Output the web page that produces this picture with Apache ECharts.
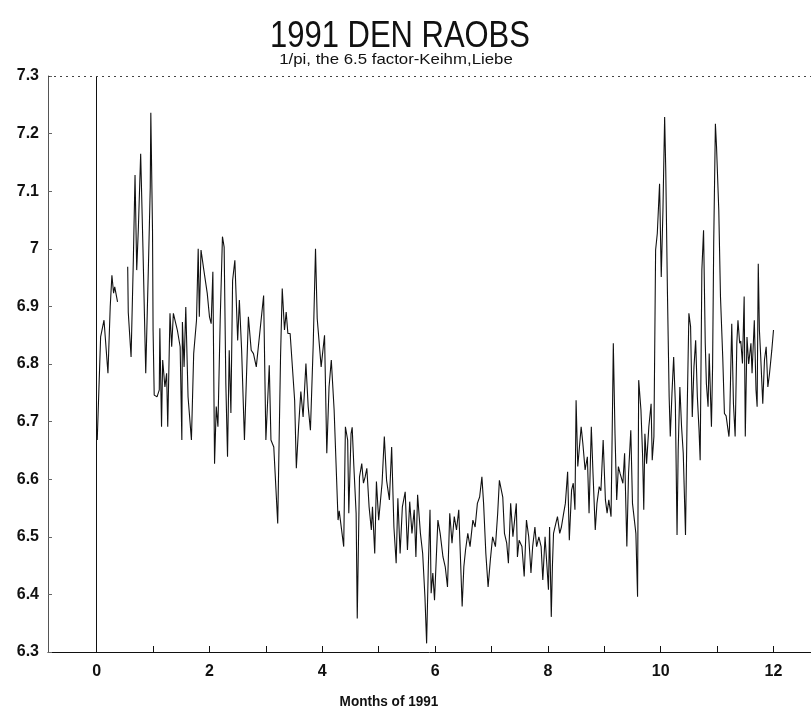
<!DOCTYPE html>
<html>
<head>
<meta charset="utf-8">
<script src="https://cdn.jsdelivr.net/npm/echarts@6/dist/echarts.min.js"></script>
<style>
html,body{margin:0;padding:0;background:#fff;}
#chart{width:811px;height:719px;}
</style>
</head>
<body>
<div id="chart"></div>
<script>
// ---- data ----
var titleText = '1991 DEN RAOBS';
var subtitleText = '1/pi, the 6.5 factor-Keihm,Liebe';
var xAxisName = 'Months of 1991';
var xLabelValues = [0, 2, 4, 6, 8, 10, 12];
var xTickValues = [0, 1, 2, 3, 4, 5, 6, 7, 8, 9, 10, 11, 12];

var months = [
 0.01,0.07,0.13,0.20,0.24,0.27,0.30,0.32,0.37,0.45,
 0.55,0.56,0.61,0.65,0.68,0.71,0.74,0.78,0.82,0.87,0.92,0.95,0.96,0.99,
 1.00,1.02,1.07,1.11,1.12,1.15,1.17,1.21,1.24,1.26,1.30,1.33,1.36,1.43,1.48,1.51,1.52,1.55,1.58,1.62,1.68,1.72,1.77,1.80,1.82,1.85,1.90,1.96,
 2.00,2.03,2.06,2.09,2.12,2.15,2.19,2.23,2.26,2.29,2.32,2.35,2.38,2.41,2.45,2.50,2.53,2.57,2.62,2.69,2.74,2.78,2.83,2.96,
 3.00,3.06,3.09,3.14,3.21,3.26,3.29,3.33,3.36,3.39,3.43,3.51,3.54,3.58,3.62,3.66,3.71,3.75,3.79,3.84,3.88,3.91,3.98,
 4.04,4.08,4.12,4.16,4.21,4.28,4.30,4.38,4.41,4.45,4.47,4.51,4.53,4.56,4.60,4.62,4.66,4.70,4.73,4.76,4.79,4.83,4.87,4.89,4.93,4.96,
 5.00,5.06,5.10,5.14,5.19,5.23,5.27,5.31,5.34,5.38,5.42,5.47,5.51,5.55,5.59,5.63,5.66,5.69,5.74,5.78,5.82,5.85,5.88,5.91,5.93,5.96,5.99,
 6.02,6.05,6.09,6.14,6.18,6.22,6.26,6.30,6.34,6.38,6.42,6.48,6.51,6.54,6.58,6.62,6.67,6.71,6.75,6.79,6.83,6.86,6.90,6.94,6.98,
 7.02,7.07,7.11,7.14,7.20,7.23,7.27,7.30,7.34,7.38,7.41,7.44,7.46,7.49,7.54,7.58,7.62,7.66,7.70,7.73,7.77,7.80,7.84,7.88,7.91,7.95,7.98,
 8.01,8.03,8.06,8.08,8.10,8.14,8.17,8.21,8.24,8.28,8.31,8.35,8.38,8.42,8.45,8.48,8.50,8.53,8.56,8.59,8.62,8.66,8.70,8.73,8.77,8.80,8.84,8.87,8.91,8.94,8.98,
 9.02,9.05,9.08,9.12,9.15,9.16,9.19,9.22,9.25,9.28,9.33,9.36,9.40,9.43,9.47,9.50,9.53,9.56,9.59,9.61,9.65,9.68,9.70,9.72,9.75,9.79,9.83,9.85,9.88,9.91,9.94,9.98,
 10.01,10.04,10.07,10.09,10.12,10.15,10.17,10.20,10.23,10.26,10.29,10.31,10.34,10.37,10.40,10.44,10.47,10.50,10.53,10.56,10.59,10.62,10.65,10.68,10.70,10.73,10.76,10.79,10.81,10.84,10.86,10.90,10.92,10.94,10.97,10.99,
 11.03,11.06,11.10,11.13,11.16,11.21,11.22,11.26,11.29,11.32,11.35,11.37,11.40,11.42,11.45,11.48,11.50,11.53,11.56,11.60,11.62,11.66,11.69,11.71,11.73,11.75,11.77,11.81,11.84,11.87,11.90,11.93,11.97,12.00
];

var values = [
 6.668,6.847,6.876,6.784,6.899,6.954,6.923,6.934,6.908,null,
 6.969,6.890,6.812,6.980,7.128,6.963,7.038,7.165,7.003,6.784,6.980,7.107,7.236,7.032,
 6.859,6.746,6.743,6.755,6.862,6.691,6.807,6.760,6.784,6.691,6.888,6.830,6.888,6.859,6.830,6.668,6.873,6.795,6.899,6.743,6.668,6.818,6.876,7.000,6.882,6.998,6.963,6.923,
 6.882,6.870,6.960,6.627,6.726,6.691,6.876,7.021,7.003,6.766,6.639,6.824,6.715,6.945,6.980,6.841,6.911,6.824,6.668,6.882,6.824,6.818,6.795,6.919,
 6.668,6.798,6.668,6.656,6.523,6.812,6.931,6.859,6.890,6.853,6.853,6.737,6.619,6.691,6.752,6.708,6.801,6.726,6.685,6.836,7.000,6.879,6.795,
 6.850,6.645,6.760,6.807,6.720,6.529,6.545,6.483,6.691,6.668,6.541,6.679,6.690,6.622,6.541,6.358,6.604,6.627,6.593,6.604,6.619,6.552,6.512,6.552,6.471,6.596,
 6.529,6.593,6.674,6.598,6.564,6.656,6.517,6.454,6.567,6.471,6.552,6.578,6.477,6.561,6.506,6.547,6.465,6.573,6.506,6.471,6.396,6.315,6.448,6.547,6.402,6.437,6.390,
 6.460,6.529,6.506,6.465,6.448,6.413,6.541,6.489,6.535,6.512,6.547,6.379,6.448,6.477,6.506,6.483,6.529,6.517,6.558,6.569,6.604,6.558,6.471,6.413,6.460,
 6.500,6.483,6.541,6.598,6.569,6.506,6.489,6.454,6.558,6.500,6.529,6.558,6.465,6.494,6.483,6.431,6.529,6.500,6.437,6.483,6.517,6.483,6.500,6.483,6.425,6.500,6.454,
 6.408,6.517,6.361,6.448,6.506,6.523,6.535,6.506,6.517,6.541,6.558,6.613,6.494,6.581,6.593,6.547,6.737,6.622,6.620,6.691,6.662,6.616,6.639,6.541,6.691,6.610,6.512,6.558,6.587,6.580,6.668,
 6.564,6.541,6.564,6.535,6.755,6.836,6.679,6.564,6.622,6.610,6.593,6.645,6.483,6.610,6.685,6.558,6.558,6.506,6.396,6.772,6.720,6.639,6.547,6.679,6.627,6.691,6.731,6.633,6.674,6.998,7.027,7.113,
 6.951,7.067,7.229,7.136,6.922,6.743,6.674,6.749,6.812,6.731,6.503,6.650,6.760,6.691,6.645,6.503,6.720,6.888,6.865,6.708,6.795,6.841,6.743,6.685,6.633,6.963,7.032,6.836,6.766,6.726,6.818,6.691,6.795,7.010,7.217,7.177,
 7.067,6.917,6.812,6.714,6.710,6.674,6.690,6.870,6.731,6.674,6.836,6.876,6.836,6.840,6.801,6.917,6.674,6.847,6.800,6.836,6.784,6.876,6.755,6.726,6.974,6.859,6.820,6.731,6.807,6.830,6.760,6.784,6.824,6.859
];

// ---- chart ----
var seriesData = months.map(function (m, i) { return [m, values[i]]; });
var chart = echarts.init(document.getElementById('chart'), null, {renderer: 'canvas'});
var labelFont = '"Liberation Sans", Arial, sans-serif';

chart.setOption({
  animation: false,
  backgroundColor: '#ffffff',
  grid: {left: 48, right: 0, top: 76, bottom: 67, containLabel: false},
  graphic: [
    {type: 'text', x: 400, y: 19, scaleX: 0.86,
     style: {text: titleText, font: '36px ' + labelFont, fill: '#111', textAlign: 'center', textVerticalAlign: 'top'}},
    {type: 'text', x: 396, y: 53, scaleX: 1.2,
     style: {text: subtitleText, font: '14px ' + labelFont, fill: '#111', textAlign: 'center', textVerticalAlign: 'top'}},
    {type: 'text', x: 389, y: 695, scaleX: 0.97,
     style: {text: xAxisName, font: 'bold 14px ' + labelFont, fill: '#111', textAlign: 'center', textVerticalAlign: 'top'}}
  ],
  xAxis: {
    type: 'value', min: -0.863, max: 12.665,
    axisLine: {show: true, onZero: false, lineStyle: {color: '#111', width: 1}},
    axisTick: {show: true, inside: true, length: 6, customValues: xTickValues, lineStyle: {color: '#111'}},
    axisLabel: {customValues: xLabelValues, margin: 12, color: '#111', fontSize: 16, fontWeight: 'bold', fontFamily: labelFont},
    splitLine: {show: false}
  },
  yAxis: {
    type: 'value', min: 6.3, max: 7.3, interval: 0.1,
    axisLine: {show: true, onZero: false, lineStyle: {color: '#555', width: 1}},
    axisTick: {show: true, inside: true, length: 4, lineStyle: {color: '#666'}},
    axisLabel: {margin: 9, color: '#111', fontSize: 16, fontWeight: 'bold', fontFamily: labelFont,
      formatter: function (v) { return String(+(+v).toFixed(1)); }},
    splitLine: {show: false}
  },
  series: [{
    type: 'line',
    data: seriesData,
    showSymbol: false,
    symbol: 'none',
    connectNulls: false,
    lineStyle: {color: '#111', width: 1.1},
    markLine: {
      silent: true, symbol: 'none', label: {show: false},
      data: [
        {xAxis: 0, lineStyle: {color: '#111', width: 1, type: 'solid'}},
        {yAxis: 7.3, lineStyle: {color: '#444', width: 1, type: [2, 4]}}
      ]
    }
  }]
});
</script>
</body>
</html>
